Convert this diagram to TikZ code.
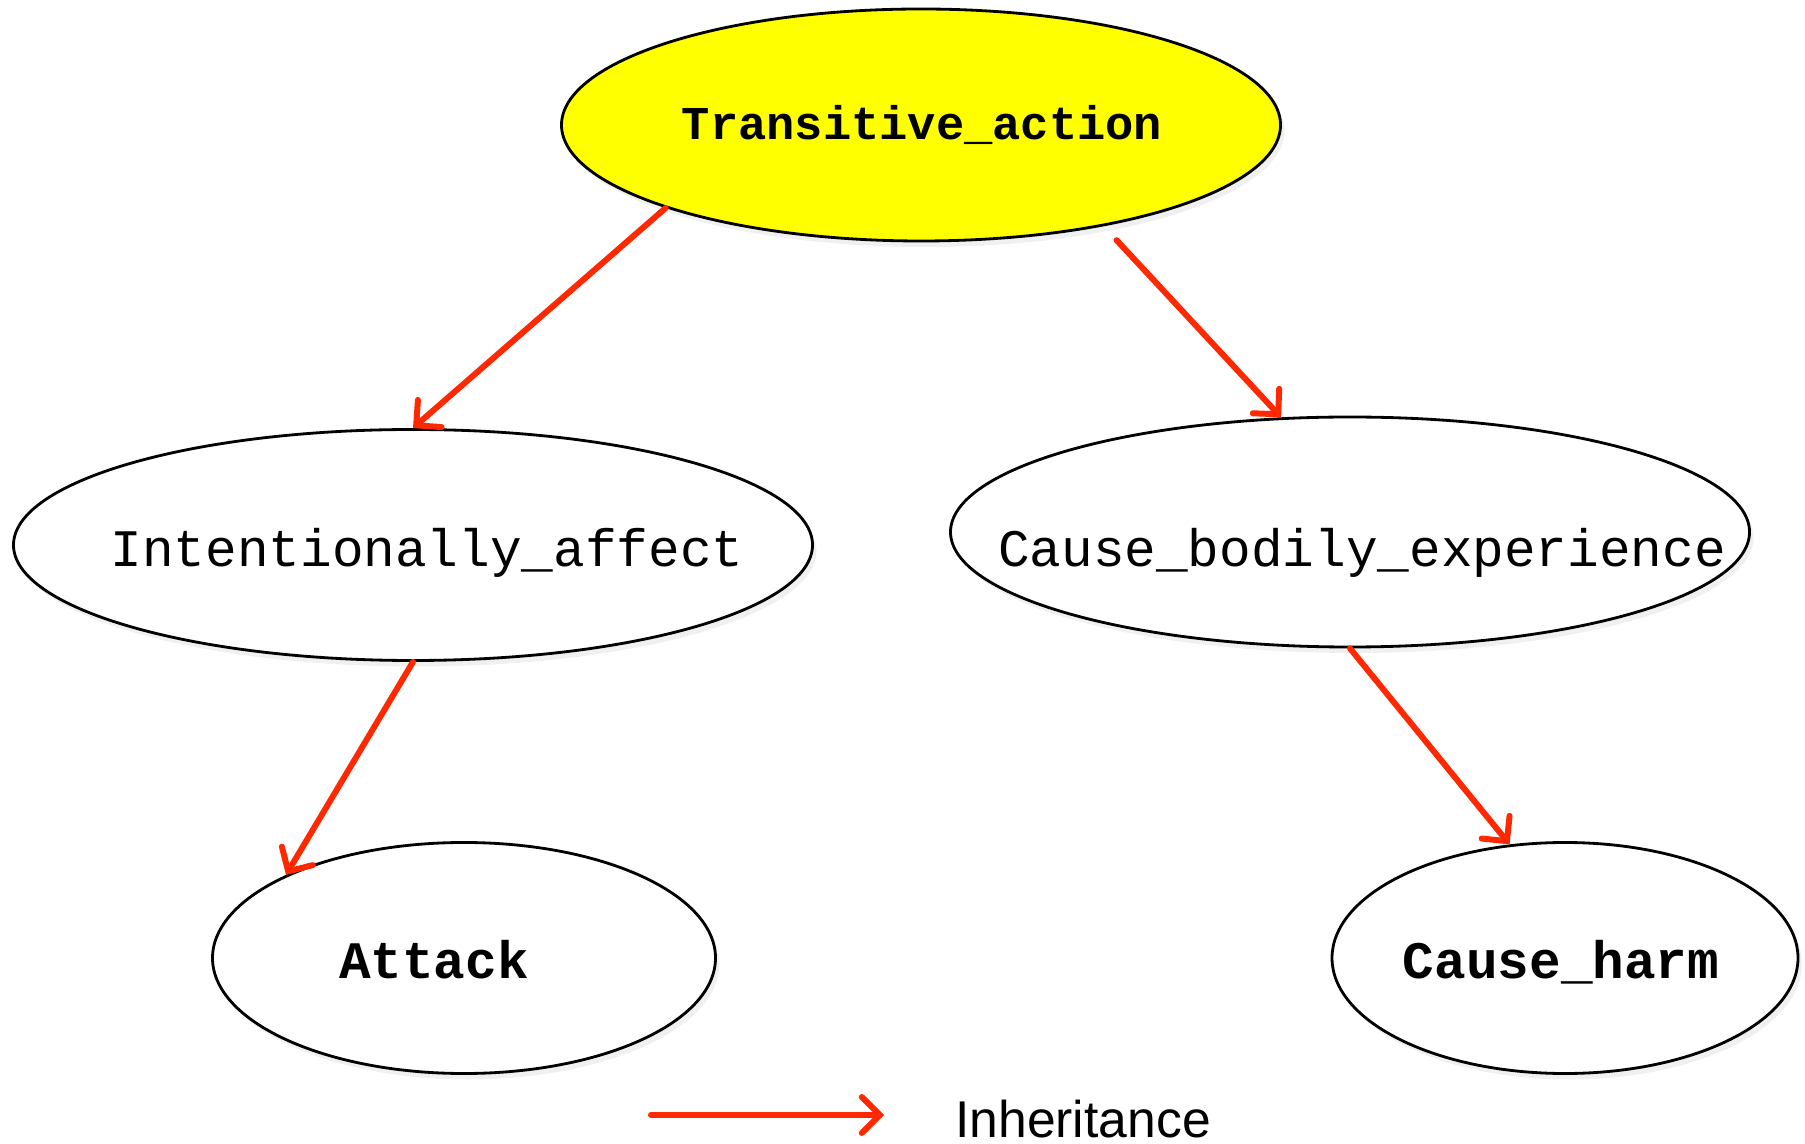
\documentclass[tikz,border=0pt]{standalone}
\usepackage{fontspec}
\setmainfont{Liberation Sans}
\setmonofont{Liberation Mono}
\usetikzlibrary{arrows.meta,shadows,shapes.geometric}

\definecolor{inhred}{RGB}{255,40,0}
\definecolor{rootyellow}{RGB}{255,255,0}

\begin{document}
\begin{tikzpicture}[
    frame/.style={ellipse, draw, line width=0.8pt, fill=white, inner sep=0pt,
                  drop shadow={opacity=0.12, shadow xshift=0.4mm, shadow yshift=-0.6mm}},
    plain/.style={anchor=base, font=\ttfamily\fontsize{15}{18}\selectfont},
    strong/.style={anchor=base, font=\ttfamily\bfseries\fontsize{15}{18}\selectfont},
    inh/.style={draw=inhred, line width=1.7pt, line cap=round,
                -{Straight Barb[length=1.8mm,width=3.6mm,line cap=round]}}
  ]
  \useasboundingbox (0,0) rectangle (18.05,11.43);

  % frames
  \node[frame, fill=rootyellow, minimum width=7.19cm, minimum height=2.32cm] (top) at (9.21,10.18) {};
  \node[frame, minimum width=7.99cm, minimum height=2.31cm] (ia) at (4.13,5.98) {};
  \node[frame, minimum width=7.99cm, minimum height=2.30cm] (cbe) at (13.50,6.11) {};
  \node[frame, minimum width=5.03cm, minimum height=2.31cm] (attack) at (4.64,1.85) {};
  \node[frame, minimum width=4.66cm, minimum height=2.31cm] (harm) at (15.65,1.85) {};

  % frame names
  \node[strong, font=\ttfamily\bfseries\fontsize{13.4}{16}\selectfont] (top text) at (9.22,10.03) {Transitive\_action};
  \node[plain] (ia text) at (4.27,5.76) {Intentionally\_affect};
  \node[plain] (cbe text) at (13.62,5.76) {Cause\_bodily\_experience};
  \node[strong] (attack text) at (4.34,1.65) {Attack};
  \node[strong] (harm text) at (15.61,1.65) {Cause\_harm};

  % inheritance links
  \draw[inh] (top.198) -- (ia.north);
  \draw[inh, shorten <=1.9mm] (top.331) -- (cbe.121);
  \draw[inh] (ia.south) -- (attack.155);
  \draw[inh] (cbe.south) -- (harm.116);

  % legend
  \coordinate (leg a) at (6.51,0.28);
  \coordinate (leg b) at (8.84,0.28);
  \draw[inh] (leg a) -- (leg b);
  \node[anchor=base, font=\fontsize{14.7}{17}\selectfont] (leg text) at (10.83,0.06) {Inheritance};

\end{tikzpicture}
\end{document}
